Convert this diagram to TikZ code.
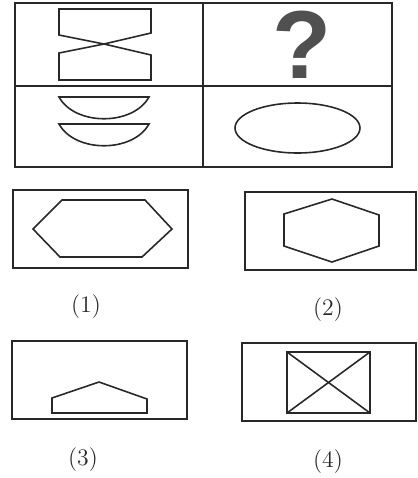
\documentclass[tikz,border=0pt]{standalone}
\usepackage{fontspec}
\usepackage{tikz}
\usetikzlibrary{positioning}
\newfontfamily\qfont{Liberation Sans}
\definecolor{tinta}{RGB}{40,40,40}
\definecolor{gristapa}{RGB}{80,80,80}

\begin{document}
\begin{tikzpicture}[x=0.02cm, y=-0.02cm,
    marco/.style={draw=tinta, line width=1.2pt},
    figura/.style={draw=tinta, line width=0.9pt, line join=miter},
    etiqueta/.style={font=\fontsize{13.5}{16}\selectfont, text=tinta}
  ]
    \useasboundingbox (0,0) rectangle (418,478);

    % matriz 2x2
    \draw[marco] (15,3) rectangle (392,167);
    \draw[marco] (203,3) -- (203,167);
    \draw[marco] (15,86) -- (392,86);

    % celda 1: reloj de arena
    \draw[figura] (59,35) -- (59,9) -- (151,9) -- (151,33) -- (104,44) -- (151,55)
      -- (151,80) -- (59,80) -- (59,53) -- (104,44) -- cycle;

    % celda 2: interrogante
    \node[font=\qfont\bfseries\fontsize{55}{55}\selectfont, text=gristapa] (pregunta) at (302,45) {?};

    % celda 3: dos segmentos
    \draw[figura] (59,97) -- (149,97) .. controls (133,126) and (75,126) .. cycle;
    \draw[figura] (59,124) -- (149,124) .. controls (133,153) and (75,153) .. cycle;

    % celda 4: elipse
    \draw[figura] (297.5,128) ellipse [x radius=1.25cm, y radius=0.5cm];

    % opcion 1
    \draw[marco] (13,190) rectangle (188,268);
    \draw[figura] (62,200) -- (145,200) -- (172,229) -- (142,257) -- (60,257) -- (33,229) -- cycle;
    \node[etiqueta] (op1) at (86,307) {(1)};

    % opcion 2
    \draw[marco] (245,192) rectangle (416,270);
    \draw[figura] (332,199) -- (379,215) -- (379,246) -- (332,262) -- (284,246) -- (284,214) -- cycle;
    \node[etiqueta] (op2) at (328,310) {(2)};

    % opcion 3
    \draw[marco] (12,341) rectangle (187,419);
    \draw[figura] (52,413) -- (52,398) -- (99,382) -- (147,399) -- (147,413) -- cycle;
    \node[etiqueta] (op3) at (83,460) {(3)};

    % opcion 4
    \draw[marco] (242,343) rectangle (416,421);
    \draw[figura] (287,352) rectangle (370,413);
    \draw[figura] (287,352) -- (370,413);
    \draw[figura] (370,352) -- (287,413);
    \node[etiqueta] (op4) at (328,462) {(4)};
  \end{tikzpicture}
\end{document}
